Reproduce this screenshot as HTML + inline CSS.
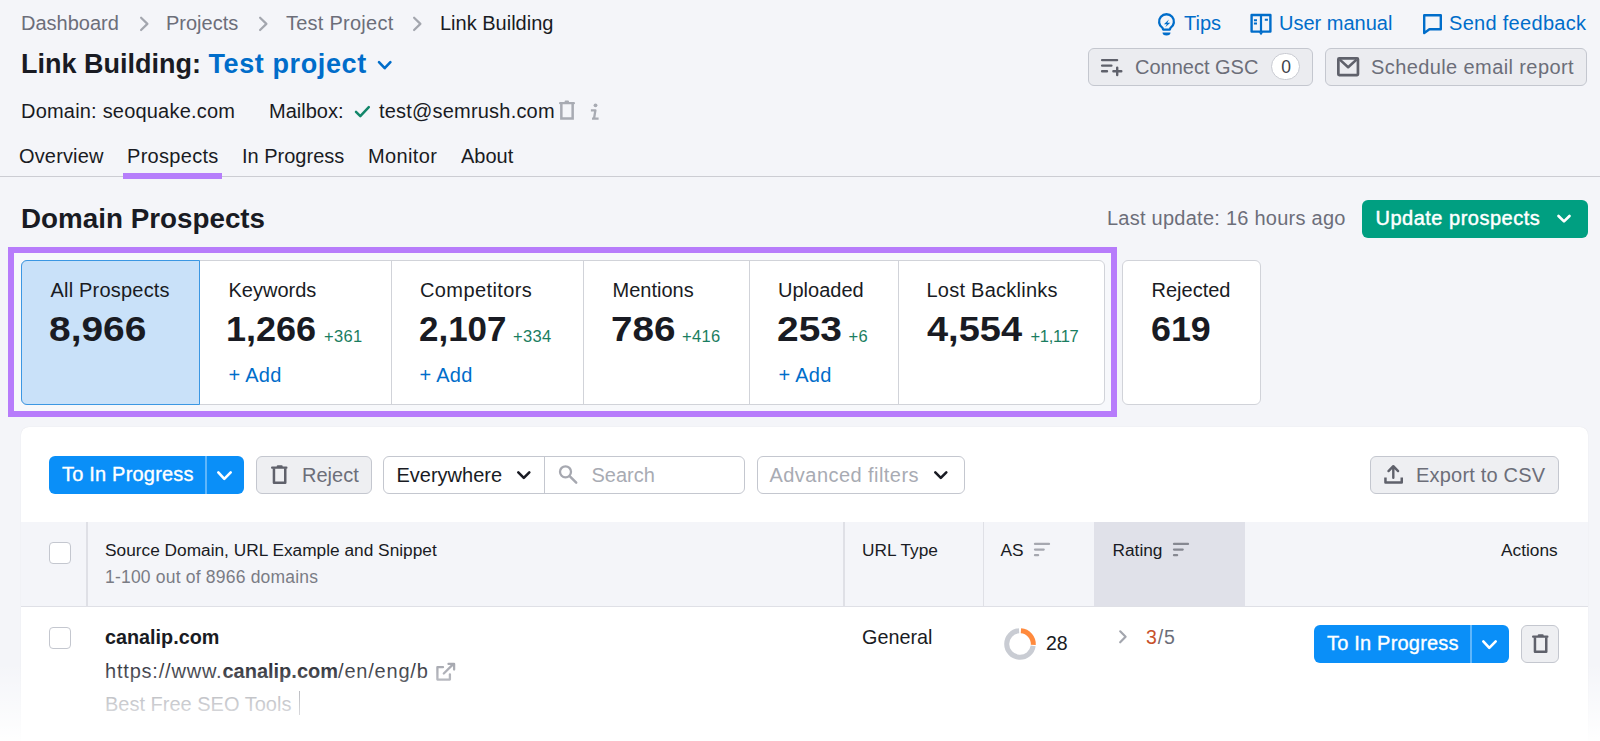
<!DOCTYPE html>
<html><head><meta charset="utf-8">
<style>
*{box-sizing:border-box;margin:0;padding:0}
html,body{width:1600px;height:741px;overflow:hidden;background:#f4f5f9;font-family:"Liberation Sans",sans-serif;color:#191b23}
.a{position:absolute;white-space:nowrap;line-height:1}
.g{color:#6c6e79}
.bl{color:#006dca}
svg{position:absolute;overflow:visible}
.btn2{position:absolute;border:1px solid #c4c7cf;background:#ebecf0;border-radius:6px}
.card{position:absolute;background:#fff}
.lbl{font-size:20px}
.num{font-size:35px;font-weight:bold;transform-origin:0 0}
.dlt{font-size:16.5px;color:#1a7d60;letter-spacing:0.3px}
.fade{position:absolute;left:0;right:0;top:663px;height:78px;background:linear-gradient(to bottom,rgba(255,255,255,0),rgba(255,255,255,0.93))}
</style></head><body>

<!-- breadcrumb -->
<div class="a g" style="left:21px;top:13px;font-size:20px">Dashboard</div>
<svg style="left:140.0px;top:15px" width="10" height="18" viewBox="0 0 10 18"><path d="M1.1 2.7L7.4 8.9 1.1 15" fill="none" stroke="#a3a6ae" stroke-width="2.2" stroke-linecap="round" stroke-linejoin="round"/></svg>
<div class="a g" style="left:166px;top:13px;font-size:20px">Projects</div>
<svg style="left:259.0px;top:15px" width="10" height="18" viewBox="0 0 10 18"><path d="M1.1 2.7L7.4 8.9 1.1 15" fill="none" stroke="#a3a6ae" stroke-width="2.2" stroke-linecap="round" stroke-linejoin="round"/></svg>
<div class="a g" style="left:286px;top:13px;font-size:20px;letter-spacing:0.25px">Test Project</div>
<svg style="left:413.0px;top:15px" width="10" height="18" viewBox="0 0 10 18"><path d="M1.1 2.7L7.4 8.9 1.1 15" fill="none" stroke="#a3a6ae" stroke-width="2.2" stroke-linecap="round" stroke-linejoin="round"/></svg>
<div class="a" style="left:440px;top:13px;font-size:20px">Link Building</div>

<!-- title -->
<div class="a" style="left:21px;top:51px;font-size:27px;font-weight:bold">Link Building:</div>
<div class="a" style="left:208.5px;top:51px;font-size:27px;font-weight:bold;color:#006dca;letter-spacing:0.6px">Test project</div>
<svg style="left:377px;top:60px" width="16" height="11" viewBox="0 0 16 11"><path d="M2 2.2l5.7 6 5.7-6" fill="none" stroke="#006dca" stroke-width="2.6" stroke-linecap="round" stroke-linejoin="round"/></svg>

<!-- domain row -->
<div class="a" style="left:21px;top:101px;font-size:20px;letter-spacing:0.2px">Domain: seoquake.com</div>
<div class="a" style="left:269px;top:101px;font-size:20px">Mailbox:</div>
<svg style="left:354px;top:105px" width="17" height="14" viewBox="0 0 17 14"><path d="M2 6.8l4.3 4.3L14.8 2.2" fill="none" stroke="#12866a" stroke-width="2.5" stroke-linecap="round" stroke-linejoin="round"/></svg>
<div class="a" style="left:379px;top:101px;font-size:20px;letter-spacing:0.2px">test@semrush.com</div>
<svg style="left:558px;top:100px" width="18" height="22" viewBox="0 0 18 22"><path d="M2.1 3.2H15.9" stroke="#a8abb3" stroke-width="2.2" stroke-linecap="round"/><rect x="6.6" y="0.4" width="4.4" height="2.4" rx="1" fill="#a8abb3"/><path d="M3.35 3.6V18.45H14.65V3.6" fill="none" stroke="#a8abb3" stroke-width="2.5"/></svg>
<svg style="left:586px;top:100px" width="15" height="22" viewBox="0 0 15 22"><circle cx="9.5" cy="5.3" r="1.9" fill="#a8abb3"/><path d="M4.9 10.3H9.4L8 18.7M6 18.7H12.6" fill="none" stroke="#a8abb3" stroke-width="2.3" stroke-linejoin="round"/></svg>

<!-- tabs -->
<div class="a" style="left:19px;top:145.5px;font-size:20px;letter-spacing:0.15px">Overview</div>
<div class="a" style="left:127px;top:145.5px;font-size:20px;letter-spacing:0.3px">Prospects</div>
<div class="a" style="left:242px;top:145.5px;font-size:20px">In Progress</div>
<div class="a" style="left:368px;top:145.5px;font-size:20px;letter-spacing:0.35px">Monitor</div>
<div class="a" style="left:461px;top:145.5px;font-size:20px">About</div>
<div style="position:absolute;left:0;top:175.6px;width:1600px;height:1.3px;background:#cccdd3"></div>
<div style="position:absolute;left:123px;top:173.4px;width:99px;height:5.3px;background:#b67efb"></div>

<!-- top right links -->
<svg style="left:1158px;top:13px" width="18" height="23" viewBox="0 0 18 23"><path d="M5.2 16.6L4.5 14.9A7.4 7.4 0 1 1 12.5 14.9L11.8 16.6Z" fill="none" stroke="#006dca" stroke-width="2.3" stroke-linejoin="round"/><path d="M10.9 6.6L5.9 11.2H8.9L7.2 14.3L12.3 9.7H9.3Z" fill="#006dca"/><path d="M4.5 19.6H12.5A4 3 0 0 1 4.5 19.6Z" fill="#006dca"/></svg>
<div class="a bl" style="left:1184px;top:13px;font-size:20px">Tips</div>
<svg style="left:1250px;top:13px" width="23" height="23" viewBox="0 0 23 23"><path d="M1.6 2H20.4V18.6H1.6Z" fill="none" stroke="#006dca" stroke-width="2.4" stroke-linejoin="round"/><path d="M11 1V19" stroke="#006dca" stroke-width="2.2"/><path d="M3.9 7.2H7M3.9 10.5H7M14.8 6.8H17.9" stroke="#006dca" stroke-width="2"/><path d="M8.8 19.2H13.2L11 22.3Z" fill="#006dca"/></svg>
<div class="a bl" style="left:1279px;top:13px;font-size:20px">User manual</div>
<svg style="left:1422.8px;top:13.6px" width="20" height="21" viewBox="0 0 20 21"><path d="M1.2 1.2H17.8V15.2H6.4L1.2 19.1Z" fill="none" stroke="#006dca" stroke-width="2.4" stroke-linejoin="round"/></svg>
<div class="a bl" style="left:1449px;top:13px;font-size:20px;letter-spacing:0.3px">Send feedback</div>

<!-- top buttons -->
<div class="btn2" style="left:1088px;top:48px;width:225px;height:38px"></div>
<svg style="left:1095px;top:52px" width="35" height="30" viewBox="0 0 35 30"><path d="M7.1 8.1H22.1M7.1 13.6H16.4M7.1 19.2H12M18.4 19.2H26.3M22.2 15.6V23.1" fill="none" stroke="#5f616b" stroke-width="2.4" stroke-linecap="round"/></svg>
<div class="a g" style="left:1135px;top:56.5px;font-size:20px">Connect GSC</div>
<div style="position:absolute;left:1271.3px;top:53.4px;width:29px;height:27px;border-radius:14px;background:#fff;border:1px solid #c9cbd2"></div>
<div class="a" style="left:1281.2px;top:58.8px;font-size:17.5px;color:#3f4149">0</div>

<div class="btn2" style="left:1325px;top:48px;width:262px;height:38px"></div>
<svg style="left:1337px;top:57px" width="23" height="20" viewBox="0 0 23 20"><rect x="1.35" y="1.35" width="19.6" height="16.8" rx="0.8" fill="none" stroke="#5f616b" stroke-width="2.7"/><path d="M2.8 2.6L11.15 10.2L19.5 2.6" fill="none" stroke="#5f616b" stroke-width="2.6" stroke-linejoin="round"/></svg>
<div class="a g" style="left:1371px;top:56.8px;font-size:20px;letter-spacing:0.4px">Schedule email report</div>

<!-- Domain prospects header -->
<div class="a" style="left:21px;top:205px;font-size:27.8px;font-weight:bold">Domain Prospects</div>
<div class="a g" style="left:1107px;top:207.5px;font-size:20px;letter-spacing:0.25px">Last update: 16 hours ago</div>
<div style="position:absolute;left:1362px;top:199.5px;width:226px;height:38.5px;background:#009f81;border-radius:6px"></div>
<div class="a" style="left:1375.5px;top:208px;font-size:20px;color:#fff;letter-spacing:0.5px;-webkit-text-stroke:0.45px #fff">Update prospects</div>
<svg style="left:1555.5px;top:213px" width="17" height="12" viewBox="0 0 17 12"><path d="M2.5 3L8 8.4 13.5 3" fill="none" stroke="#fff" stroke-width="2.7" stroke-linecap="round" stroke-linejoin="round"/></svg>

<!-- purple highlight -->
<div style="position:absolute;left:8.1px;top:247.3px;width:1108.8px;height:169.9px;border:6.3px solid #b77cfb;background:#f7f8fb"></div>

<!-- cards -->
<div class="card" style="left:21px;top:260px;width:1084px;height:145px;border:1.5px solid #d1d3d9;border-radius:6px"></div>
<div style="position:absolute;left:21px;top:260.3px;width:179px;height:144.7px;background:#c9e1f9;border:1.8px solid #3b97e3;border-radius:6px 0 0 6px"></div>
<div style="position:absolute;left:390.5px;top:261px;width:1.5px;height:143px;background:#d1d3d9"></div>
<div style="position:absolute;left:582.5px;top:261px;width:1.5px;height:143px;background:#d1d3d9"></div>
<div style="position:absolute;left:748.5px;top:261px;width:1.5px;height:143px;background:#d1d3d9"></div>
<div style="position:absolute;left:897.5px;top:261px;width:1.5px;height:143px;background:#d1d3d9"></div>

<div class="a lbl" style="left:50.5px;top:280px;letter-spacing:0.2px">All Prospects</div>
<div class="a num" style="left:49.31px;top:310.5px;transform:scaleX(1.1117)">8,966</div>

<div class="a lbl" style="left:228.5px;top:280px">Keywords</div>
<div class="a num" style="left:226.30px;top:310.5px;transform:scaleX(1.0293)">1,266</div>
<div class="a dlt" style="left:324px;top:327.5px">+361</div>
<div class="a lbl bl" style="left:228.5px;top:365px;letter-spacing:0.3px">+ Add</div>

<div class="a lbl" style="left:420px;top:280px;letter-spacing:0.4px">Competitors</div>
<div class="a num" style="left:419.01px;top:310.5px;transform:scaleX(0.9993)">2,107</div>
<div class="a dlt" style="left:513px;top:328px">+334</div>
<div class="a lbl bl" style="left:419.5px;top:365px;letter-spacing:0.3px">+ Add</div>

<div class="a lbl" style="left:612.5px;top:280px">Mentions</div>
<div class="a num" style="left:610.98px;top:310.5px;transform:scaleX(1.1045)">786</div>
<div class="a dlt" style="left:682px;top:328px">+416</div>

<div class="a lbl" style="left:778px;top:280px">Uploaded</div>
<div class="a num" style="left:776.99px;top:310.5px;transform:scaleX(1.1110)">253</div>
<div class="a dlt" style="left:848.5px;top:328px">+6</div>
<div class="a lbl bl" style="left:778.5px;top:365px;letter-spacing:0.3px">+ Add</div>

<div class="a lbl" style="left:926.5px;top:280px;letter-spacing:0.25px">Lost Backlinks</div>
<div class="a num" style="left:926.61px;top:310.5px;transform:scaleX(1.0846)">4,554</div>
<div class="a dlt" style="left:1030.5px;top:328px;letter-spacing:-0.3px">+1,117</div>

<div class="card" style="left:1122px;top:260px;width:139px;height:145px;border:1.5px solid #d1d3d9;border-radius:6px"></div>
<div class="a lbl" style="left:1151.5px;top:280px">Rejected</div>
<div class="a num" style="left:1151.00px;top:310.5px;transform:scaleX(1.0230)">619</div>

<!-- main panel -->
<div style="position:absolute;left:21px;top:427px;width:1567px;height:400px;background:#fff;border-radius:8px;box-shadow:0 0 1px 0 rgba(25,27,35,0.12)"></div>

<!-- toolbar -->
<div style="position:absolute;left:49px;top:455.5px;width:195px;height:38px;background:#0a8ff8;border-radius:6px"></div>
<div style="position:absolute;left:205.2px;top:455.5px;width:1.6px;height:38px;background:#5fb6fb"></div>
<div class="a" style="left:62px;top:463.5px;font-size:20px;color:#fff;letter-spacing:0.2px;-webkit-text-stroke:0.35px #fff">To In Progress</div>
<svg style="left:217.3px;top:470.7px" width="15" height="11" viewBox="0 0 15 11"><path d="M1.3 1.4L7.3 7.9 13.7 1.4" fill="none" stroke="#fff" stroke-width="2.6" stroke-linecap="round" stroke-linejoin="round"/></svg>

<div class="btn2" style="left:255.5px;top:455.5px;width:116px;height:38px;background:#eeeff2"></div>
<svg style="left:270.5px;top:464.8px" width="17" height="20" viewBox="0 0 17 20"><path d="M1.1 2.7H15.4" stroke="#5f616b" stroke-width="2.2" stroke-linecap="round"/><rect x="5.7" y="0.2" width="6" height="2.4" rx="1.1" fill="#5f616b"/><path d="M2.95 3.2V17.85H14.25V3.2" fill="none" stroke="#5f616b" stroke-width="2.5" stroke-linejoin="round"/></svg>
<div class="a g" style="left:302px;top:464.5px;font-size:20px">Reject</div>

<div style="position:absolute;left:383px;top:455.5px;width:361.5px;height:38px;border:1px solid #c4c7cf;border-radius:6px;background:#fff"></div>
<div style="position:absolute;left:543.5px;top:456px;width:1px;height:37px;background:#c4c7cf"></div>
<div class="a" style="left:396.5px;top:464.5px;font-size:20px">Everywhere</div>
<svg style="left:517px;top:470.5px" width="15" height="11" viewBox="0 0 15 11"><path d="M1.3 1.4L6.8 6.9 12.3 1.4" fill="none" stroke="#191b23" stroke-width="2.6" stroke-linecap="round" stroke-linejoin="round"/></svg>
<svg style="left:558px;top:464px" width="22" height="22" viewBox="0 0 22 22"><circle cx="7.5" cy="7.8" r="5.5" fill="none" stroke="#a6a8b0" stroke-width="2.3"/><path d="M11.9 12.4L18.2 18.6" stroke="#a6a8b0" stroke-width="2.5" stroke-linecap="round"/></svg>
<div class="a" style="left:591.5px;top:464.5px;font-size:20px;color:#a8abb3">Search</div>

<div style="position:absolute;left:756.5px;top:455.5px;width:208px;height:38px;border:1px solid #c4c7cf;border-radius:6px;background:#fff"></div>
<div class="a" style="left:769.5px;top:464.5px;font-size:20px;color:#a8abb3;letter-spacing:0.45px">Advanced filters</div>
<svg style="left:934px;top:470.5px" width="15" height="11" viewBox="0 0 15 11"><path d="M1.3 1.4L6.8 6.9 12.3 1.4" fill="none" stroke="#191b23" stroke-width="2.6" stroke-linecap="round" stroke-linejoin="round"/></svg>

<div class="btn2" style="left:1370px;top:455.5px;width:189px;height:38px;background:#eeeff2"></div>
<svg style="left:1383px;top:463px" width="21" height="22" viewBox="0 0 21 22"><path d="M5.5 8.1L10.3 3.2 15.1 8.1M10.3 3.6V14.7" fill="none" stroke="#5f616b" stroke-width="2.4" stroke-linecap="round" stroke-linejoin="round"/><path d="M2.45 14.6V19.45H18.75V14.6" fill="none" stroke="#5f616b" stroke-width="2.5" stroke-linejoin="round"/></svg>
<div class="a g" style="left:1416px;top:464.5px;font-size:20px;letter-spacing:0.2px">Export to CSV</div>

<!-- table header -->
<div style="position:absolute;left:21px;top:522px;width:1567px;height:84.5px;background:#f4f5f9"></div>
<div style="position:absolute;left:1094px;top:522px;width:151px;height:84.5px;background:#e0e1e9"></div>
<div style="position:absolute;left:21px;top:605.5px;width:1567px;height:1.5px;background:#dfe0e6"></div>
<div style="position:absolute;left:86px;top:522px;width:1.5px;height:84px;background:#dfe0e6"></div>
<div style="position:absolute;left:843px;top:522px;width:1.5px;height:84px;background:#dfe0e6"></div>
<div style="position:absolute;left:982.5px;top:522px;width:1.5px;height:84px;background:#dfe0e6"></div>
<div style="position:absolute;left:48.5px;top:541.5px;width:22px;height:22px;border:1.5px solid #c4c7cf;border-radius:4px;background:#fff"></div>
<div class="a" style="left:105px;top:541.5px;font-size:17.3px">Source Domain, URL Example and Snippet</div>
<div class="a" style="left:105px;top:568.5px;font-size:17.5px;letter-spacing:0.2px;color:#7a7c85">1-100 out of 8966 domains</div>
<div class="a" style="left:862px;top:541.5px;font-size:17.3px">URL Type</div>
<div class="a" style="left:1000.5px;top:541.5px;font-size:17.3px">AS</div>
<svg style="left:1030px;top:538px" width="24" height="22" viewBox="0 0 24 22"><path d="M5 5.9H19M5 11.6H13.7M5 17.2H8.1" stroke="#a6a8b0" stroke-width="2.3" stroke-linecap="round"/></svg>
<div class="a" style="left:1112.5px;top:541.5px;font-size:17.3px">Rating</div>
<svg style="left:1169px;top:538px" width="24" height="22" viewBox="0 0 24 22"><path d="M5 5.9H19M5 11.6H13.7M5 17.2H8.1" stroke="#868891" stroke-width="2.3" stroke-linecap="round"/></svg>
<div class="a" style="left:1501px;top:541.5px;font-size:17.3px">Actions</div>

<!-- row -->
<div style="position:absolute;left:48.5px;top:627px;width:22px;height:22px;border:1.5px solid #c4c7cf;border-radius:4px;background:#fff"></div>
<div class="a" style="left:105px;top:627.5px;font-size:19.8px;font-weight:bold">canalip.com</div>
<div class="a" style="left:105px;top:661px;font-size:20px;color:#33353d;letter-spacing:0.8px">https://www.<b style="color:#2b2d35;letter-spacing:0">canalip.com</b>/en/eng/b</div>
<svg style="left:434px;top:660px" width="24" height="24" viewBox="0 0 24 24"><path d="M9 7.2H3.4V19.6H15.9V14.3" fill="none" stroke="#a6a8b0" stroke-width="2.3" stroke-linecap="round" stroke-linejoin="round"/><path d="M9.8 13.5L19.5 3.9M14.5 3.9H20.1V9.5" fill="none" stroke="#a6a8b0" stroke-width="2.3" stroke-linecap="round" stroke-linejoin="round"/></svg>
<div class="a" style="left:105px;top:693.5px;font-size:20px;color:#9a9ca4">Best Free SEO Tools</div>
<div style="position:absolute;left:298.5px;top:691px;width:1.5px;height:24px;background:#9a9ca4"></div>
<div class="a" style="left:862px;top:628px;font-size:19.8px">General</div>
<svg style="left:1003.8px;top:627.5px" width="32" height="32" viewBox="0 0 32 32"><path d="M29.17 17.85A13.3 13.3 0 1 1 15.07 2.73" fill="none" stroke="#c9ccd3" stroke-width="5"/><path d="M16.93 2.73A13.3 13.3 0 0 1 29.27 16.93" fill="none" stroke="#ff8a3d" stroke-width="5"/></svg>
<div class="a" style="left:1046px;top:633.5px;font-size:19.5px">28</div>
<svg style="left:1118px;top:629px" width="12" height="17" viewBox="0 0 12 17"><path d="M2.2 2.3L7.6 7.8 2.2 13.3" fill="none" stroke="#a3a6ae" stroke-width="2.2" stroke-linecap="round" stroke-linejoin="round"/></svg>
<div class="a" style="left:1146px;top:628px;font-size:19.5px;color:#6c6e79;letter-spacing:0.9px"><span style="color:#c8502a">3</span>/5</div>

<div style="position:absolute;left:1314px;top:624.5px;width:195px;height:38px;background:#0a8ff8;border-radius:6px"></div>
<div style="position:absolute;left:1470.2px;top:624.5px;width:1.6px;height:38px;background:#5fb6fb"></div>
<div class="a" style="left:1327px;top:632.5px;font-size:20px;color:#fff;letter-spacing:0.2px;-webkit-text-stroke:0.35px #fff">To In Progress</div>
<svg style="left:1482.3px;top:639.7px" width="15" height="11" viewBox="0 0 15 11"><path d="M1.3 1.4L7.3 7.9 13.7 1.4" fill="none" stroke="#fff" stroke-width="2.6" stroke-linecap="round" stroke-linejoin="round"/></svg>
<div class="btn2" style="left:1521px;top:624.5px;width:38px;height:38px;background:#eeeff2"></div>
<svg style="left:1532px;top:633.5px" width="17" height="20" viewBox="0 0 17 20"><path d="M1.1 2.7H15.4" stroke="#5f616b" stroke-width="2.2" stroke-linecap="round"/><rect x="5.7" y="0.2" width="6" height="2.4" rx="1.1" fill="#5f616b"/><path d="M2.95 3.2V17.85H14.25V3.2" fill="none" stroke="#5f616b" stroke-width="2.5" stroke-linejoin="round"/></svg>

<div class="fade"></div>
</body></html>
